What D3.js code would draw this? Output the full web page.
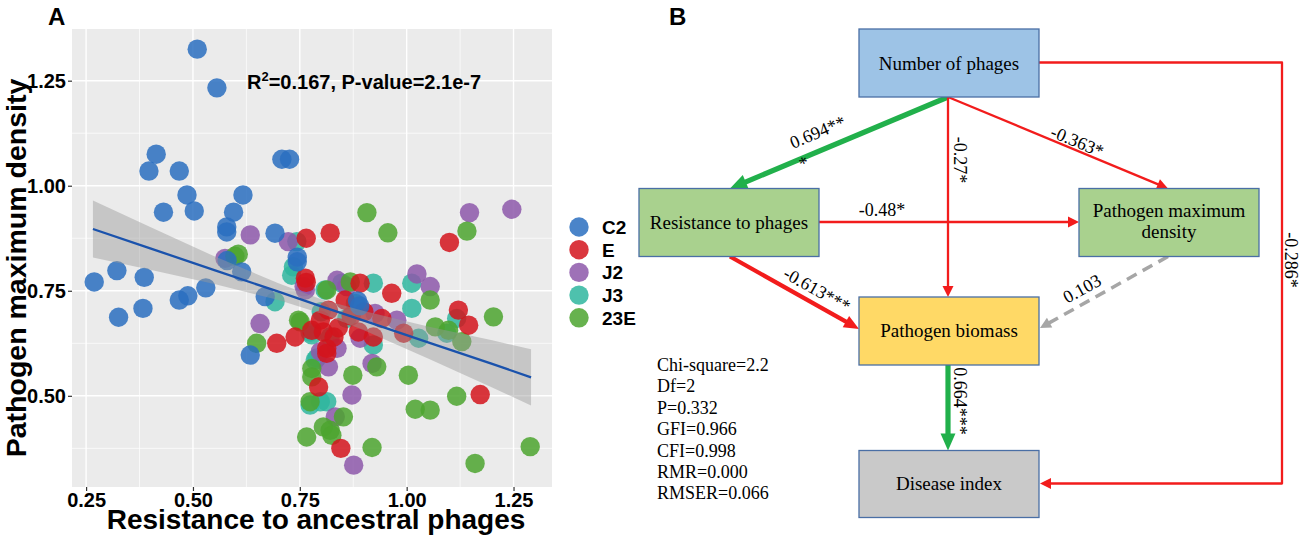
<html>
<head>
<meta charset="utf-8">
<title>Resistance and pathogen density</title>
<script src="https://d3js.org/d3.v7.min.js"></script>
<style>
    body { margin: 0; background: #ffffff; }
    svg text { font-family: "Liberation Sans", Arial, sans-serif; }
    .serif text { font-family: "Liberation Serif", "Times New Roman", serif; }
</style>
</head>
<body>
<svg id="fig" width="1299" height="536"></svg>
<script>
    // ---------- panel A : data ----------
    var groups = ["C2", "E", "J2", "J3", "23E"];
    var groupColors = ["#2A6FC0", "#D4141C", "#8D58AA", "#2FB69F", "#4CA42F"];

    var c2X = [0.510, 0.556, 0.414, 0.397, 0.468, 0.486, 0.617, 0.431, 0.503, 0.595, 0.579, 0.579, 0.708, 0.726, 0.692, 0.744,
               0.744, 0.269, 0.322, 0.386, 0.326, 0.383, 0.468, 0.488, 0.530, 0.614, 0.669, 0.634, 0.885, 0.890, 0.580];
    var c2Y = [1.325, 1.233, 1.075, 1.035, 1.035, 0.978, 0.978, 0.937, 0.940, 0.937, 0.902, 0.890, 1.063, 1.063, 0.887, 0.830,
               0.819, 0.771, 0.798, 0.782, 0.687, 0.708, 0.728, 0.738, 0.757, 0.795, 0.736, 0.597, 0.726, 0.714, 0.822];

    var eX = [0.765, 0.821, 1.100, 0.763, 0.891, 0.965, 0.856, 0.817, 0.798, 0.778, 0.739, 0.696, 0.887, 0.922, 0.942,
              0.993, 0.813, 0.805, 1.121, 1.145, 0.813, 0.794, 1.172, 0.846, 0.840, 0.900, 0.870, 0.830, 0.765];
    var eY = [0.875, 0.887, 0.865, 0.780, 0.768, 0.744, 0.728, 0.704, 0.680, 0.656, 0.640, 0.625, 0.652, 0.640, 0.684,
              0.649, 0.613, 0.652, 0.704, 0.668, 0.601, 0.521, 0.503, 0.375, 0.662, 0.700, 0.690, 0.640, 0.770];

    var j2X = [0.634, 0.723, 0.575, 1.147, 1.246, 1.024, 1.055, 0.977, 0.919, 0.837, 0.817, 0.872, 0.833, 0.876, 0.837,
               0.926, 0.763, 0.657, 0.798, 0.891, 0.860, 0.760];
    var j2Y = [0.883, 0.867, 0.827, 0.936, 0.944, 0.790, 0.760, 0.680, 0.577, 0.613, 0.569, 0.502, 0.450, 0.335, 0.775,
               0.696, 0.752, 0.672, 0.605, 0.637, 0.760, 0.760];

    var j3X = [0.743, 0.735, 0.692, 0.731, 0.778, 0.786, 0.798, 0.813, 0.774, 0.809, 0.848, 0.922, 1.012, 1.012, 1.028,
               0.860, 0.922, 1.117, 1.094, 0.774, 0.821, 0.800, 0.880, 0.790];
    var j3Y = [0.867, 0.807, 0.724, 0.787, 0.645, 0.585, 0.486, 0.486, 0.478, 0.752, 0.768, 0.768, 0.768, 0.708, 0.637,
               0.684, 0.621, 0.684, 0.649, 0.652, 0.640, 0.700, 0.720, 0.590];

    var e23X = [0.606, 0.598, 0.907, 0.956, 1.141, 0.868, 0.813, 1.055, 1.067, 1.098, 1.129, 1.203, 1.004, 0.874, 0.930, 1.117,
                1.020, 1.055, 0.919, 1.160, 1.289, 0.852, 0.821, 0.805, 0.825, 0.766, 0.774, 0.778, 0.778, 0.751, 0.649, 0.747];
    var e23Y = [0.837, 0.832, 0.936, 0.888, 0.892, 0.771, 0.752, 0.728, 0.664, 0.656, 0.629, 0.688, 0.549, 0.549, 0.569, 0.499,
                0.468, 0.466, 0.377, 0.339, 0.379, 0.450, 0.418, 0.426, 0.406, 0.402, 0.486, 0.565, 0.545, 0.676, 0.625, 0.680];

    var groupX = [c2X, eX, j2X, j3X, e23X];
    var groupY = [c2Y, eY, j2Y, j3Y, e23Y];
    var drawOrder = [3, 2, 4, 1, 0];

    // linear fit and its confidence band
    var fitX  = [0.266, 0.40, 0.55, 0.70, 0.80, 0.90, 1.05, 1.20, 1.291];
    var fitY  = [0.897, 0.851, 0.799, 0.748, 0.713, 0.679, 0.627, 0.576, 0.544];
    var fitLo = [0.829, 0.800, 0.766, 0.728, 0.696, 0.656, 0.589, 0.520, 0.477];
    var fitHi = [0.965, 0.902, 0.832, 0.768, 0.730, 0.702, 0.665, 0.632, 0.611];

    var xTicks = [0.25, 0.50, 0.75, 1.00, 1.25];
    var yTicks = [0.50, 0.75, 1.00, 1.25];
    var xTitle = "Resistance to ancestral phages";
    var yTitle = "Pathogen maximum density";
    var r2Text = "0.167", pText = "2.1e-7";

    // ---------- panel B : path model ----------
    var nodeNames = ["Number of phages", "Resistance to phages", "Pathogen maximum density", "Pathogen biomass", "Disease index"];
    var pathCoef = ["0.694***", "-0.27*", "-0.363*", "-0.48*", "-0.613***", "0.103", "0.664***", "-0.286*"];
    var fitIndices = ["Chi-square=2.2", "Df=2", "P=0.332", "GFI=0.966", "CFI=0.998", "RMR=0.000", "RMSER=0.066"];

    var svg = d3.select("#fig");

    // ================= panel A =================
    var x = d3.scaleLinear().domain([0.217, 1.34]).range([72, 552]);
    var y = d3.scaleLinear().domain([0.283, 1.373]).range([487, 29]);
    var A = svg.append("g");

    A.append("rect")
        .attr("x", x.range()[0]).attr("y", y.range()[1])
        .attr("width", x.range()[1] - x.range()[0])
        .attr("height", y.range()[0] - y.range()[1])
        .attr("fill", "#EBEBEB");

    function between(a, b) { return (a + b) / 2; }
    var xMinor = [], yMinor = [];
    for (var i = 0; i < xTicks.length - 1; i++) xMinor.push(between(xTicks[i], xTicks[i + 1]));
    for (var i = 0; i < yTicks.length - 1; i++) yMinor.push(between(yTicks[i], yTicks[i + 1]));
    xMinor.push(xTicks[xTicks.length - 1] + 0.125);
    yMinor.unshift(yTicks[0] - 0.125);
    xMinor = xMinor.filter(function (v) { return v > x.domain()[0] && v < x.domain()[1]; });
    yMinor = yMinor.filter(function (v) { return v > y.domain()[0] && v < y.domain()[1]; });

    var grid = A.append("g").attr("stroke", "#ffffff");
    grid.selectAll(".xm").data(xMinor).enter().append("line")
        .attr("x1", x).attr("x2", x).attr("y1", y.range()[1]).attr("y2", y.range()[0]).attr("stroke-width", 0.7);
    grid.selectAll(".ym").data(yMinor).enter().append("line")
        .attr("y1", y).attr("y2", y).attr("x1", x.range()[0]).attr("x2", x.range()[1]).attr("stroke-width", 0.7);
    grid.selectAll(".xM").data(xTicks).enter().append("line")
        .attr("x1", x).attr("x2", x).attr("y1", y.range()[1]).attr("y2", y.range()[0]).attr("stroke-width", 1.4);
    grid.selectAll(".yM").data(yTicks).enter().append("line")
        .attr("y1", y).attr("y2", y).attr("x1", x.range()[0]).attr("x2", x.range()[1]).attr("stroke-width", 1.4);

    // points
    drawOrder.forEach(function (g) {
        var pts = groupX[g].map(function (v, k) { return [v, groupY[g][k]]; });
        A.append("g").selectAll("circle").data(pts).enter().append("circle")
            .attr("cx", function (d) { return x(d[0]); })
            .attr("cy", function (d) { return y(d[1]); })
            .attr("r", 9.7)
            .attr("fill", groupColors[g])
            .attr("fill-opacity", 0.85);
    });

    // confidence band + fit line
    var band = fitX.map(function (v, k) { return { x: v, lo: fitLo[k], hi: fitHi[k], y: fitY[k] }; });
    A.append("path").datum(band)
        .attr("d", d3.area().x(function (d) { return x(d.x); }).y0(function (d) { return y(d.lo); }).y1(function (d) { return y(d.hi); }))
        .attr("fill", "#999999").attr("fill-opacity", 0.45);
    A.append("path").datum(band)
        .attr("d", d3.line().x(function (d) { return x(d.x); }).y(function (d) { return y(d.y); }))
        .attr("fill", "none").attr("stroke", "#1A52AC").attr("stroke-width", 2.3);

    // axes
    var xAxis = A.append("g").attr("transform", "translate(0," + y.range()[0] + ")")
        .call(d3.axisBottom(x).tickValues(xTicks).tickFormat(d3.format(".2f")).tickSize(4).tickPadding(2));
    var yAxis = A.append("g").attr("transform", "translate(" + x.range()[0] + ",0)")
        .call(d3.axisLeft(y).tickValues(yTicks).tickFormat(d3.format(".2f")).tickSize(4).tickPadding(2));
    [xAxis, yAxis].forEach(function (ax) {
        ax.select(".domain").remove();
        ax.selectAll(".tick line").attr("stroke", "#333333").attr("stroke-width", 1.2);
        ax.selectAll(".tick text").attr("fill", "#000").style("font-size", "20px").style("font-weight", "bold")
            .style("font-family", "'Liberation Sans', Arial, sans-serif");
    });

    A.append("text").attr("x", 316).attr("y", 529).attr("text-anchor", "middle")
        .style("font-size", "28px").style("font-weight", "bold").text(xTitle);
    A.append("text").attr("transform", "translate(26,268) rotate(-90)").attr("text-anchor", "middle")
        .style("font-size", "28.5px").style("font-weight", "bold").text(yTitle);

    var ann = A.append("text").attr("x", 247).attr("y", 89).style("font-size", "20px").style("font-weight", "bold");
    ann.append("tspan").text("R");
    ann.append("tspan").attr("dy", -8).style("font-size", "13px").text("2");
    ann.append("tspan").attr("dy", 8).text("=" + r2Text + ", P-value=" + pText);

    A.append("text").attr("x", 48).attr("y", 25).style("font-size", "24px").style("font-weight", "bold").text("A");

    // legend
    var leg = A.append("g").selectAll("g").data(groups).enter().append("g")
        .attr("transform", function (d, k) { return "translate(579," + (227 + k * 22.7) + ")"; });
    leg.append("circle").attr("r", 9.7)
        .attr("fill", function (d, k) { return groupColors[k]; }).attr("fill-opacity", 0.85);
    leg.append("text").attr("x", 23).attr("y", 6.8)
        .style("font-size", "19px").style("font-weight", "bold").text(function (d) { return d; });

    // ================= panel B =================
    svg.append("text").attr("x", 669).attr("y", 25).style("font-size", "24px").style("font-weight", "bold").text("B");
    var B = svg.append("g").attr("class", "serif");

    var boxes = [
        { x: 859, y: 29, w: 180, h: 68, fill: "#9DC3E6", base: [69.5] },
        { x: 639, y: 188.5, w: 180, h: 68, fill: "#A9D18E", base: [228.5] },
        { x: 1079, y: 188.5, w: 180, h: 68, fill: "#A9D18E", base: [216.5, 237.5], wrap: 2 },
        { x: 859, y: 297, w: 180, h: 68, fill: "#FFD966", base: [336.5] },
        { x: 859, y: 450.5, w: 180, h: 67, fill: "#C9C9C9", base: [490] }
    ];

    var red = "#F21C1C", green = "#21B04B", grey = "#A6A6A6";
    var edges = [
        { pts: [[948, 97], [730, 188.5]], color: green, w: 5.2, hl: 17, hw: 7.5 },
        { pts: [[948, 97], [948, 297]], color: red, w: 2.3, hl: 11, hw: 5.5 },
        { pts: [[948, 97], [1168, 188.5]], color: red, w: 2.3, hl: 11, hw: 5.5 },
        { pts: [[819, 222], [1079, 222]], color: red, w: 2.3, hl: 11, hw: 5.5 },
        { pts: [[730, 256.5], [859, 329]], color: red, w: 4.3, hl: 15, hw: 6.5 },
        { pts: [[1168, 256.5], [1040, 328]], color: grey, w: 3.5, hl: 11, hw: 5.5, dash: "11,7" },
        { pts: [[948, 365], [948, 450.5]], color: green, w: 5.2, hl: 17, hw: 7.5 },
        { pts: [[1039, 62.5], [1282, 62.5], [1282, 483.5], [1040, 483.5]], color: red, w: 2.3, hl: 11, hw: 5.5 }
    ];

    edges.forEach(function (e) {
        var p = e.pts.map(function (q) { return q.slice(); });
        var n = p.length, tip = p[n - 1], from = p[n - 2];
        var dx = tip[0] - from[0], dy = tip[1] - from[1], L = Math.sqrt(dx * dx + dy * dy);
        var ux = dx / L, uy = dy / L;
        var base = [tip[0] - ux * e.hl, tip[1] - uy * e.hl];
        p[n - 1] = [base[0] + ux * 1, base[1] + uy * 1];
        B.append("path").attr("d", d3.line()(p))
            .attr("fill", "none").attr("stroke", e.color).attr("stroke-width", e.w)
            .attr("stroke-linejoin", "round")
            .attr("stroke-dasharray", e.dash || null);
        B.append("path")
            .attr("d", d3.line()([tip, [base[0] - uy * e.hw, base[1] + ux * e.hw], [base[0] + uy * e.hw, base[1] - ux * e.hw]]) + "Z")
            .attr("fill", e.color);
    });

    boxes.forEach(function (b, k) {
        B.append("rect").attr("x", b.x).attr("y", b.y).attr("width", b.w).attr("height", b.h)
            .attr("fill", b.fill).attr("stroke", "#4A6FA5").attr("stroke-width", 1.3);
        var words = nodeNames[k].split(" ");
        var lines = b.wrap ? [words.slice(0, b.wrap).join(" "), words.slice(b.wrap).join(" ")] : [nodeNames[k]];
        lines.forEach(function (t, j) {
            B.append("text").attr("x", b.x + b.w / 2).attr("y", b.base[j]).attr("text-anchor", "middle")
                .style("font-size", "19px").attr("fill", "#000").text(t);
        });
    });

    var coefPos = [
        { x: 793, y: 149, a: -22.7, anchor: "start", wrap: 7 },
        { x: 954, y: 160, a: 90 },
        { x: 1075, y: 147, a: 22.5 },
        { x: 882, y: 215.5, a: 0 },
        { x: 814, y: 295, a: 29.2 },
        { x: 1085, y: 294, a: -29 },
        { x: 953.5, y: 401, a: 90 },
        { x: 1284.5, y: 260, a: 90 }
    ];
    pathCoef.forEach(function (c, k) {
        var p = coefPos[k];
        var t = B.append("text").attr("transform", "translate(" + p.x + "," + p.y + ") rotate(" + p.a + ")")
            .attr("text-anchor", p.anchor || "middle").style("font-size", "18px").attr("fill", "#000");
        if (p.wrap) {
            t.append("tspan").attr("x", 0).text(c.slice(0, p.wrap));
            t.append("tspan").attr("x", 0).attr("dy", 23).text(c.slice(p.wrap));
        } else {
            t.text(c);
        }
    });

    B.selectAll(".fit").data(fitIndices).enter().append("text")
        .attr("x", 657).attr("y", function (d, k) { return 371 + k * 21.4; })
        .style("font-size", "18px").attr("fill", "#000").text(function (d) { return d; });
</script>
</body>
</html>
